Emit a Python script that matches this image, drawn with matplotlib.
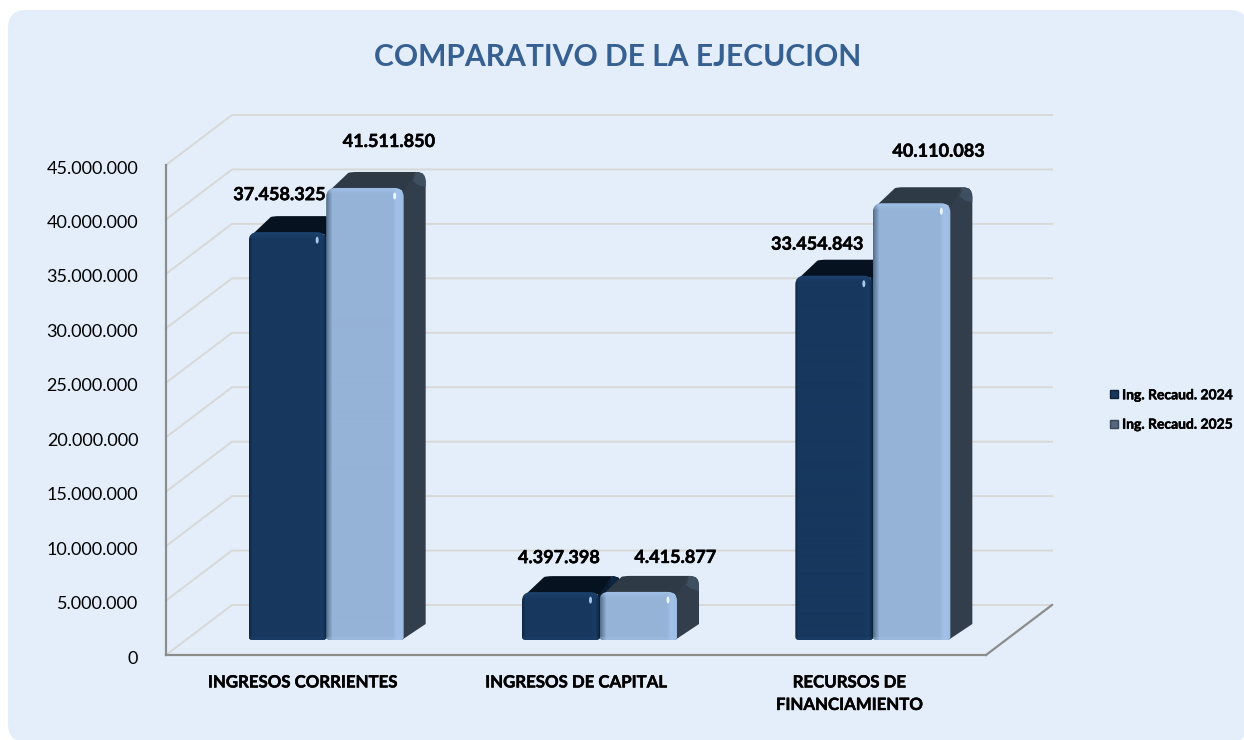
import numpy as np
import matplotlib
matplotlib.use('Agg')
import matplotlib.pyplot as plt
import matplotlib.patheffects as pe
from matplotlib.lines import Line2D
from matplotlib.patches import FancyBboxPatch, PathPatch, Polygon, Ellipse
from matplotlib.path import Path
from matplotlib.transforms import IdentityTransform, ScaledTranslation

plt.rcParams['font.family'] = ['Lato', 'DejaVu Sans']

# datos
categorias = ['INGRESOS CORRIENTES', 'INGRESOS DE CAPITAL', 'RECURSOS DE\nFINANCIAMIENTO']
ing_2024 = [37458325, 4397398, 33454843]
ing_2025 = [41511850, 4415877, 40110083]
series = ['Ing. Recaud. 2024', 'Ing. Recaud. 2025']
ticks = [0, 5000000, 10000000, 15000000, 20000000, 25000000, 30000000, 35000000, 40000000, 45000000]

W, H = 1244, 740
fig = plt.figure(figsize=(W / 100, H / 100), dpi=100, facecolor='white')

# panel de fondo
panel = FancyBboxPatch((8, -2), 1240, H - 8, boxstyle='round,pad=0,rounding_size=18',
                       transform=IdentityTransform(), facecolor='#e4eefb', edgecolor='none', zorder=-1)
fig.add_artist(panel)

ax = fig.add_axes([166 / W, 1 - 655 / H, 820 / W, 490 / H])
ax.patch.set_alpha(0)

# trazo fino para engrosar el texto
grueso = [pe.withStroke(linewidth=0.35, foreground='black')]


# pixeles a unidades de datos
def px_x(p):
    return p * 3 / 820


def px_y(p):
    return p * 45000000 / 490


def fmt(v):
    return f'{v:,.0f}'.replace(',', '.')


# rectangulo con esquinas redondeadas (radios en pixeles)
def caja(x0, x1, y0, y1, rt, rb):
    tx, ty = px_x(rt), px_y(rt)
    bx, by = px_x(rb), px_y(rb)
    verts = [(x0 + bx, y0), (x1 - bx, y0), (x1, y0), (x1, y0 + by),
             (x1, y1 - ty), (x1, y1), (x1 - tx, y1),
             (x0 + tx, y1), (x0, y1), (x0, y1 - ty),
             (x0, y0 + by), (x0, y0), (x0 + bx, y0)]
    codes = [Path.MOVETO, Path.LINETO, Path.CURVE3, Path.CURVE3,
             Path.LINETO, Path.CURVE3, Path.CURVE3,
             Path.LINETO, Path.CURVE3, Path.CURVE3,
             Path.LINETO, Path.CURVE3, Path.CURVE3]
    return Path(verts, codes)


def rgb(c):
    return np.array(matplotlib.colors.to_rgb(c))


# degradado de la cara frontal
def cara(x0, x1, y0, y1, estilo, z):
    w = 78
    h = max(int(round((y1 - y0) / px_y(1))), 2)
    xs = np.arange(w)
    stops = estilo['stops']
    perfil = np.stack([np.interp(xs, [s[0] for s in stops], [rgb(s[1])[i] for s in stops]) for i in range(3)], axis=1)
    img = np.repeat(perfil[np.newaxis, :, :], h, axis=0)
    # brillo arriba (fila 0 = arriba)
    for fila in range(min(7, h)):
        k = (1 - fila / 7) * 0.75
        img[fila] = img[fila] * (1 - k) + rgb(estilo['brillo']) * k
    # borde inferior
    for fila in range(1, min(4, h)):
        img[-fila] = img[-fila] * 0.7 + rgb(estilo['brillo']) * 0.3
    forma = PathPatch(caja(x0, x1, y0, y1, 9, 3), facecolor='none', edgecolor='none',
                      transform=ax.transData)
    ax.add_patch(forma)
    im = ax.imshow(img, extent=(x0, x1, y0, y1), aspect='auto', origin='upper',
                   interpolation='bilinear', zorder=z)
    im.set_clip_path(forma)


def barra(xc, val, estilo, z):
    ancho = px_x(77.5)
    x0, x1 = xc - ancho / 2, xc + ancho / 2
    y0 = px_y(15)
    y1 = y0 + val
    ddx, ddy = px_x(22), px_y(16)
    # silueta lateral con esquina redondeada
    rx, ry = px_x(9), px_y(9)
    verts = [(x1 - px_x(2), y0), (x1 + ddx, y0 + ddy), (x1 + ddx, y1 + ddy - ry), (x1 + ddx, y1 + ddy),
             (x1 + ddx - rx, y1 + ddy), (x1 - px_x(2), y1 - px_y(2)), (x1 - px_x(2), y0)]
    codes = [Path.MOVETO, Path.LINETO, Path.LINETO, Path.CURVE3, Path.CURVE3, Path.LINETO, Path.CLOSEPOLY]
    ax.add_patch(PathPatch(Path(verts, codes), facecolor=estilo['lateral'], edgecolor='none', zorder=z))
    # tapa
    verts = [(x0 + px_x(3), y1 - px_y(3)), (x0 + ddx, y1 + ddy - px_y(1)), (x0 + ddx + px_x(2), y1 + ddy),
             (x0 + ddx + px_x(9), y1 + ddy), (x1 + ddx - rx, y1 + ddy), (x1, y1 - px_y(2)), (x0 + px_x(3), y1 - px_y(3))]
    codes = [Path.MOVETO, Path.LINETO, Path.CURVE3, Path.CURVE3, Path.LINETO, Path.LINETO, Path.CLOSEPOLY]
    ax.add_patch(PathPatch(Path(verts, codes), facecolor=estilo['tapa'], edgecolor='none', zorder=z))
    # canto iluminado junto a la esquina
    ax.add_patch(Polygon([(x1 + px_x(9), y1 + px_y(7)), (x1 + ddx - rx, y1 + ddy), (x1 + ddx - px_x(3), y1 + ddy - px_y(1.5)),
                          (x1 + ddx, y1 + ddy - ry), (x1 + ddx, y1 + ddy - px_y(15)), (x1 + px_x(14), y1 + px_y(3))],
                         closed=True, facecolor=estilo['canto'], edgecolor='none', zorder=z))
    cara(x0, x1, y0, y1, estilo, z + 0.1)
    ax.add_patch(Ellipse((x1 - px_x(9), y1 - px_y(8)), px_x(3), px_y(7), angle=0, facecolor=estilo['punto'],
                         edgecolor='none', zorder=z + 0.2))
    return (x0 + x1) / 2, y1


oscuro = dict(stops=[(0, '#0f2846'), (3, '#17375e'), (68, '#17375e'), (73, '#1a3b63'), (77, '#0e2540')],
              brillo='#1f4673', lateral='#0a1c32', tapa='#06121f', canto='#0d2540', punto='#a8c8ea')
claro = dict(stops=[(0, '#54708f'), (6, '#95b3d7'), (66, '#95b3d7'), (71, '#a3c2ea'), (77, '#9dbce3')],
             brillo='#a5c4ea', lateral='#323e4c', tapa='#2f3a47', canto='#3e4f62', punto='#eef5fc')

# paredes: rejilla trasera y diagonales
fdx, fdy = px_x(66), px_y(50)
for t in ticks:
    ax.plot([0, fdx, 3 + fdx], [t, t + fdy, t + fdy], color='#d8d8d6', lw=1.4, clip_on=False, zorder=1)

# suelo
ax.plot([3, 3 + fdx], [0, fdy], color='#8c8c8c', lw=1.6, clip_on=False, zorder=2)

desp = px_x(23.5)
ancho = px_x(77.5)
etq_2024 = [(-8, 37.5), (-2, 34.5), (-17, 31.5)]
etq_2025 = [(24, 46.5), (37, 34.5), (27, 52)]
for i in range(3):
    xc = i + 0.5 + desp
    px, py = barra(xc - ancho / 2, ing_2024[i], oscuro, 3 + i)
    ax.annotate(fmt(ing_2024[i]), (px, py), xytext=(etq_2024[i][0] * 0.72, etq_2024[i][1] * 0.72),
                textcoords='offset points', ha='center', va='center', fontsize=13, fontweight='bold',
                color='black', zorder=10, path_effects=grueso)
    px, py = barra(xc + ancho / 2, ing_2025[i], claro, 3.5 + i)
    ax.annotate(fmt(ing_2025[i]), (px, py), xytext=(etq_2025[i][0] * 0.72, etq_2025[i][1] * 0.72),
                textcoords='offset points', ha='center', va='center', fontsize=13, fontweight='bold',
                color='black', zorder=10, path_effects=grueso)

ax.set_xlim(0, 3)
ax.set_ylim(0, 45000000)
ax.set_xticks([0.5, 1.5, 2.5])
ax.set_xticklabels(categorias, fontsize=12.1, fontweight='bold', color='black', linespacing=1.5,
                   path_effects=grueso)
ax.set_yticks(ticks)
ax.set_yticklabels([fmt(t) for t in ticks], fontsize=13, color='black')
ax.tick_params(axis='x', length=0, pad=14)
ax.tick_params(axis='y', length=0, pad=20)
bajar = ScaledTranslation(0, -2 / 72 * 0.72, fig.dpi_scale_trans)
for lab in ax.get_yticklabels():
    lab.set_transform(lab.get_transform() + bajar)
for s in ['top', 'right']:
    ax.spines[s].set_visible(False)
for s in ['left', 'bottom']:
    ax.spines[s].set_color('#8c8c8c')
    ax.spines[s].set_linewidth(1.6)

# leyenda
handles = [Line2D([], [], linestyle='none', marker='s', markersize=6, color='#17375e', markeredgecolor='#0d2238'),
           Line2D([], [], linestyle='none', marker='s', markersize=6, color='#55677c', markeredgecolor='#39475a')]
leg = fig.legend(handles, series, loc='center left', bbox_to_anchor=(1104 / W, 1 - 410 / H), frameon=False,
                 prop=dict(size=10, weight='bold'), labelspacing=1.25, handletextpad=-0.1, handlelength=1.4,
                 borderpad=0, borderaxespad=0)
for t in leg.get_texts():
    t.set_path_effects(grueso)

fig.text(617.5 / W, 1 - 57 / H, 'COMPARATIVO DE LA EJECUCION', ha='center', va='center',
         fontsize=21.6, fontweight='bold', color='#376092')

fig.savefig('out.png', dpi=100, facecolor='white')
